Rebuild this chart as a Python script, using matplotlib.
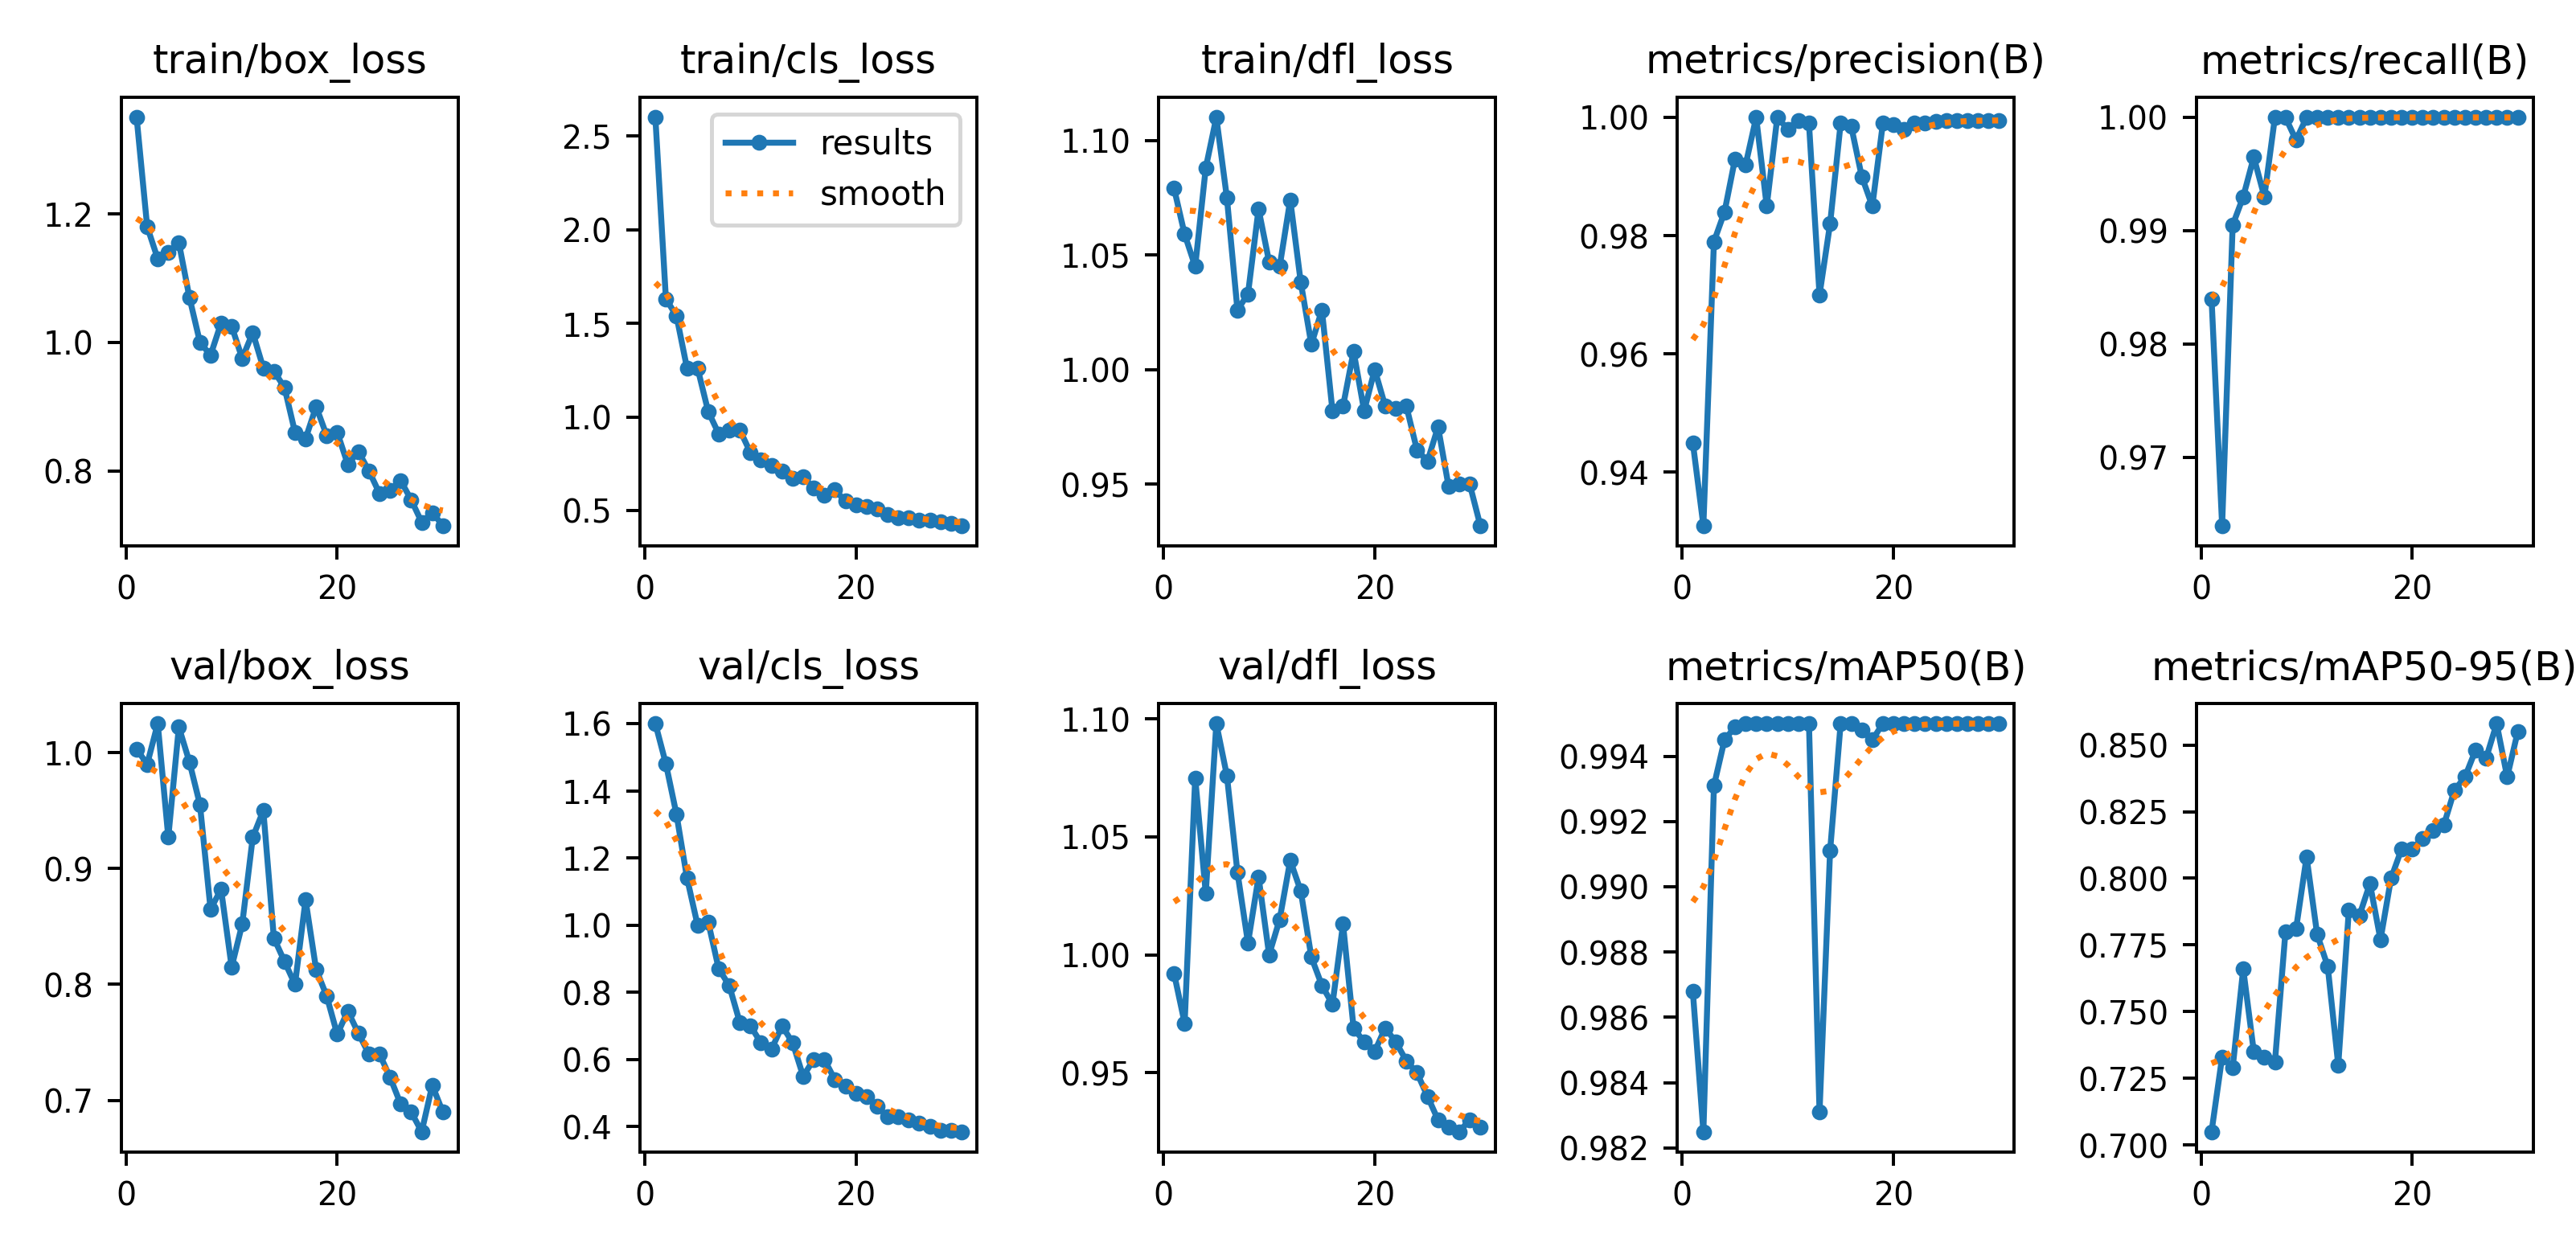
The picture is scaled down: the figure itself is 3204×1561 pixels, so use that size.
import numpy as np
import matplotlib
matplotlib.use("Agg")
import matplotlib.pyplot as plt
from matplotlib.ticker import MultipleLocator

epochs = list(range(1, 31))

train_box_loss = [1.35, 1.18, 1.13, 1.14, 1.155, 1.07, 1.0, 0.98, 1.03, 1.025, 0.975, 1.015, 0.96, 0.955, 0.93,
                  0.86, 0.85, 0.90, 0.855, 0.86, 0.81, 0.83, 0.80, 0.765, 0.77, 0.785, 0.755, 0.72, 0.735, 0.715]
train_cls_loss = [2.6, 1.63, 1.54, 1.26, 1.26, 1.03, 0.91, 0.93, 0.93, 0.81, 0.77, 0.74, 0.71, 0.67, 0.68,
                  0.62, 0.58, 0.61, 0.55, 0.53, 0.52, 0.51, 0.48, 0.46, 0.46, 0.45, 0.45, 0.44, 0.43, 0.42]
train_dfl_loss = [1.079, 1.059, 1.045, 1.088, 1.11, 1.075, 1.026, 1.033, 1.07, 1.047, 1.045, 1.074, 1.038, 1.011, 1.026,
                  0.982, 0.984, 1.008, 0.982, 1.0, 0.984, 0.983, 0.984, 0.965, 0.96, 0.975, 0.949, 0.95, 0.95, 0.932]
precision = [0.945, 0.931, 0.979, 0.984, 0.993, 0.992, 1.0, 0.985, 1.0, 0.998, 0.9995, 0.999, 0.970, 0.982, 0.999,
             0.9985, 0.990, 0.985, 0.999, 0.9988, 0.998, 0.999, 0.999, 0.9993, 0.9995, 0.9995, 0.9995, 0.9995, 0.9995, 0.9995]
recall = [0.984, 0.964, 0.9905, 0.993, 0.9965, 0.993, 1.0, 1.0, 0.998, 1.0, 1.0, 1.0, 1.0, 1.0, 1.0,
          1.0, 1.0, 1.0, 1.0, 1.0, 1.0, 1.0, 1.0, 1.0, 1.0, 1.0, 1.0, 1.0, 1.0, 1.0]
val_box_loss = [1.003, 0.99, 1.025, 0.927, 1.022, 0.992, 0.955, 0.865, 0.882, 0.815, 0.852, 0.927, 0.95, 0.84, 0.82,
                0.80, 0.873, 0.813, 0.79, 0.757, 0.777, 0.758, 0.74, 0.74, 0.72, 0.697, 0.69, 0.673, 0.713, 0.69]
val_cls_loss = [1.6, 1.48, 1.33, 1.14, 1.0, 1.01, 0.87, 0.82, 0.71, 0.70, 0.65, 0.63, 0.70, 0.65, 0.55,
                0.60, 0.60, 0.54, 0.52, 0.50, 0.49, 0.46, 0.43, 0.43, 0.42, 0.41, 0.40, 0.39, 0.39, 0.385]
val_dfl_loss = [0.992, 0.971, 1.075, 1.026, 1.098, 1.076, 1.035, 1.005, 1.033, 1.0, 1.015, 1.04, 1.027, 0.999, 0.987,
                0.979, 1.013, 0.969, 0.963, 0.959, 0.969, 0.963, 0.955, 0.95, 0.94, 0.93, 0.927, 0.925, 0.93, 0.927]
map50 = [0.9868, 0.9825, 0.9931, 0.9945, 0.9949, 0.995, 0.995, 0.995, 0.995, 0.995, 0.995, 0.995, 0.9831, 0.9911, 0.995,
         0.995, 0.9948, 0.9945, 0.995, 0.995, 0.995, 0.995, 0.995, 0.995, 0.995, 0.995, 0.995, 0.995, 0.995, 0.995]
map50_95 = [0.705, 0.733, 0.729, 0.766, 0.735, 0.733, 0.731, 0.780, 0.781, 0.808, 0.779, 0.767, 0.730, 0.788, 0.786,
            0.798, 0.777, 0.800, 0.811, 0.811, 0.815, 0.818, 0.820, 0.833, 0.838, 0.848, 0.845, 0.858, 0.838, 0.855]

titles = ["train/box_loss", "train/cls_loss", "train/dfl_loss", "metrics/precision(B)", "metrics/recall(B)",
          "val/box_loss", "val/cls_loss", "val/dfl_loss", "metrics/mAP50(B)", "metrics/mAP50-95(B)"]
series = [train_box_loss, train_cls_loss, train_dfl_loss, precision, recall,
          val_box_loss, val_cls_loss, val_dfl_loss, map50, map50_95]


def smooth(y, sigma=3):
    # gaussian smoothing of the plotted series, reflect at the edges
    r = int(4 * sigma + 0.5)
    k = np.exp(-0.5 * (np.arange(-r, r + 1) / sigma) ** 2)
    k /= k.sum()
    yp = np.pad(np.asarray(y, float), r, mode="symmetric")
    return np.convolve(yp, k, mode="valid")


fig, axes = plt.subplots(2, 5, figsize=(9, 4.386), dpi=356, tight_layout=True)
axes = axes.ravel()
for i, (ax, title, y) in enumerate(zip(axes, titles, series)):
    ax.plot(epochs, y, marker=".", label="results", linewidth=1.5, markersize=6)
    ax.plot(epochs, smooth(y), ":", label="smooth", linewidth=1.5)
    ax.set_title(title, fontsize=10)
    ax.tick_params(labelsize=8)
axes[0].yaxis.set_major_locator(MultipleLocator(0.2))
axes[1].legend(fontsize=8.5)

plt.savefig("out.png")
